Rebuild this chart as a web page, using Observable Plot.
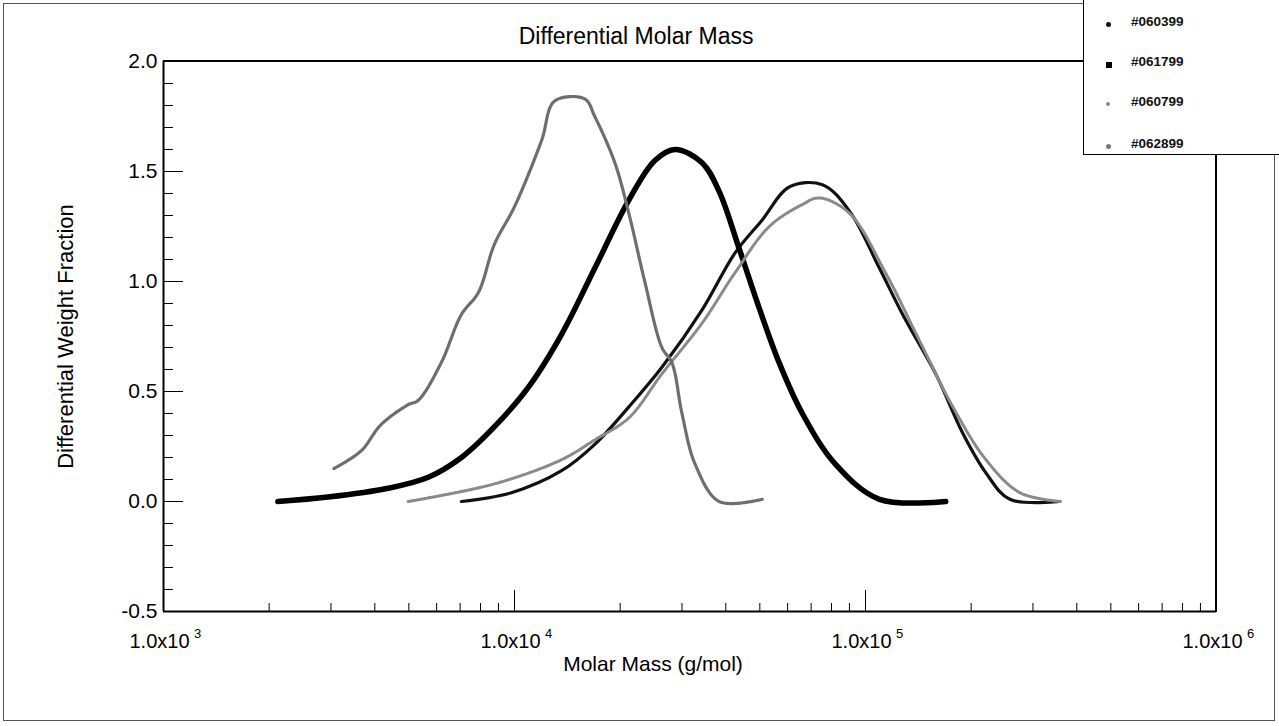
<!DOCTYPE html>
<html><head><meta charset="utf-8">
<script src="https://cdn.jsdelivr.net/npm/d3@7"></script>
<script src="https://cdn.jsdelivr.net/npm/@observablehq/plot@0.6"></script>
<style>
body{margin:0;background:#fff;font-family:"Liberation Sans",Arial,sans-serif}
#wrap{position:relative;width:1279px;height:726px;overflow:hidden}
#border{position:absolute;left:3px;top:3px;width:1272px;height:718px;border:1px solid #555;box-sizing:border-box}
.ln{position:absolute;background:#000}
#legend{position:absolute;left:1083px;top:0;width:196px;height:155px;border:1.5px solid #000;border-top:none;border-right:none;background:#fff;box-sizing:border-box}
.li{position:absolute;left:0;font-size:13.5px;font-weight:bold;color:#111}
.mk{position:absolute;left:22px}
.lt{position:absolute;left:47px;top:-8px}
svg{position:absolute;left:0;top:0}
</style></head><body>
<div id="wrap"><div id="border"></div></div>
<script>
const seriesNames = ["#060399","#061799","#060799","#062899"];
// series #060399 (black, peak ~7e4)
const mass060399 = [7060,9800,13620,16930,21170,26300,34200,42500,50800,60700,75400,90000,109600,127600,158500,189300,220300,257800,358100];
const frac060399 = [0.0,0.04,0.14,0.26,0.43,0.61,0.87,1.13,1.28,1.43,1.44,1.32,1.06,0.85,0.58,0.31,0.13,0.01,0.0];
// series #061799 (thick black, peak ~2.9e4)
const mass061799 = [2117,2943,4365,5680,7060,8770,10960,13620,16930,21170,25120,28650,34220,38280,43650,49770,56780,66070,82070,109600,169300];
const frac061799 = [0.0,0.02,0.06,0.11,0.2,0.34,0.52,0.76,1.06,1.37,1.55,1.6,1.54,1.41,1.15,0.88,0.63,0.4,0.17,0.01,0.0];
// series #060799 (grey, peak ~7.4e4)
const mass060799 = [4980,8770,13620,16930,21170,26300,34200,42500,53200,66070,73900,90000,114000,142600,177400,220300,275400,358100];
const frac060799 = [0.0,0.08,0.19,0.28,0.38,0.58,0.81,1.04,1.25,1.35,1.38,1.31,1.04,0.73,0.43,0.19,0.04,0.0];
// series #062899 (light grey, peak ~1.5e4)
const mass062899 = [3060,3655,4170,4980,5320,6180,7060,7890,8770,10000,11940,13010,15850,16930,19310,21170,23500,26300,28100,30000,32700,38300,50800];
const frac062899 = [0.15,0.23,0.35,0.44,0.46,0.63,0.85,0.95,1.17,1.34,1.64,1.82,1.83,1.75,1.54,1.31,1.0,0.70,0.63,0.40,0.17,0.0,0.01];

const xMajor = [1e3,1e4,1e5,1e6];
const xExp = ["3","4","5","6"];
const xMinor = [];
for (const d of [1e3,1e4,1e5]) for (let k=2;k<=9;k++) xMinor.push(d*k);
const yMajor = [-0.5,0,0.5,1,1.5,2];
const yMinor = d3.range(-4,20).map(i=>i/10).filter(v=>!yMajor.some(m=>Math.abs(m-v)<1e-9));

const mk = (m,f,s)=>m.map((x,i)=>({x,y:f[i],s}));
const styles = [
  {d:mk(mass060399,frac060399,0), stroke:"#111", w:3.2, dash:null},
  {d:mk(mass061799,frac061799,1), stroke:"#000", w:5.5, dash:null},
  {d:mk(mass060799,frac060799,2), stroke:"#8a8a8a", w:3, dash:"2,1"},
  {d:mk(mass062899,frac062899,3), stroke:"#6e6e6e", w:3.2, dash:"2.5,1"}
];
const xLab = xMajor.map((v,i)=>({v, exp:xExp[i]}));

const chart = Plot.plot({
  width:1279, height:726,
  marginLeft:163, marginRight:63, marginTop:61, marginBottom:115,
  style:{fontFamily:"Liberation Sans, Arial, sans-serif", background:"transparent"},
  x:{type:"log", domain:[1e3,1e6]},
  y:{domain:[-0.5,2]},
  marks:[
    Plot.axisY(yMajor,{tickSize:-20, tickFormat:d=>d.toFixed(1), tickPadding:26, fill:"#000", stroke:"#000", label:null, fontSize:21}),
    Plot.axisY(yMinor,{tickSize:-10, tickFormat:()=>"", label:null}),
    Plot.axisX(xMajor,{tickSize:-21, tickFormat:()=>"", label:null}),
    Plot.axisX(xMinor,{tickSize:-8, tickFormat:()=>"", label:null}),
    Plot.ruleY([-0.5],{strokeWidth:2}),
    Plot.ruleX([1e3],{strokeWidth:2}),
    Plot.text(xLab,{x:"v", y:()=>-0.5, text:()=>"1.0x10", dy:30, dx:-4, fill:"#000", fontSize:20}),
    Plot.text(xLab,{x:"v", y:()=>-0.5, text:"exp", dy:22, dx:34, fontSize:13, fill:"#000"}),
    ...styles.map(s=>Plot.line(s.d,{x:"x", y:"y", stroke:s.stroke, strokeWidth:s.w, strokeDasharray:s.dash, curve:"catmull-rom"})),
    Plot.text(["Differential Molar Mass"],{frameAnchor:"top", x:()=>22200, dy:-34, fontSize:23, fill:"#000"}),
    Plot.text(["Molar Mass (g/mol)"],{frameAnchor:"bottom", dy:59, dx:-37, fontSize:21, fill:"#000"}),
    Plot.text(["Differential Weight Fraction"],{frameAnchor:"left", textAnchor:"middle", dx:-98, rotate:-90, fontSize:22, fill:"#000"})
  ]
});
const wrap = document.getElementById("wrap");
wrap.appendChild(chart);
chart.querySelectorAll("text").forEach(t=>{
  if (t.textContent==="1.0x10") t.style.fontSize="20px";
});
const topLine = document.createElement("div"); topLine.className="ln";
Object.assign(topLine.style,{left:"163px",top:"60px",width:"920px",height:"2px"}); wrap.appendChild(topLine);
const rightLine = document.createElement("div"); rightLine.className="ln";
Object.assign(rightLine.style,{left:"1215px",top:"155px",width:"2px",height:"457px"}); wrap.appendChild(rightLine);
const leg = document.createElement("div"); leg.id="legend"; wrap.appendChild(leg);
const markers = [
 '<div style="width:5px;height:5px;border-radius:50%;background:#111"></div>',
 '<div style="width:6px;height:6px;background:#000"></div>',
 '<div style="width:4px;height:4px;border-radius:50%;background:#888"></div>',
 '<div style="width:5px;height:5px;border-radius:50%;background:#777"></div>'
];
const legTops=[22,62,102,144];
seriesNames.forEach((n,i)=>{
  const it=document.createElement("div"); it.className="li"; it.style.top=legTops[i]+"px";
  it.innerHTML='<div class="mk">'+markers[i]+'</div><div class="lt">'+n+'</div>';
  leg.appendChild(it);
});
</script></body></html>
